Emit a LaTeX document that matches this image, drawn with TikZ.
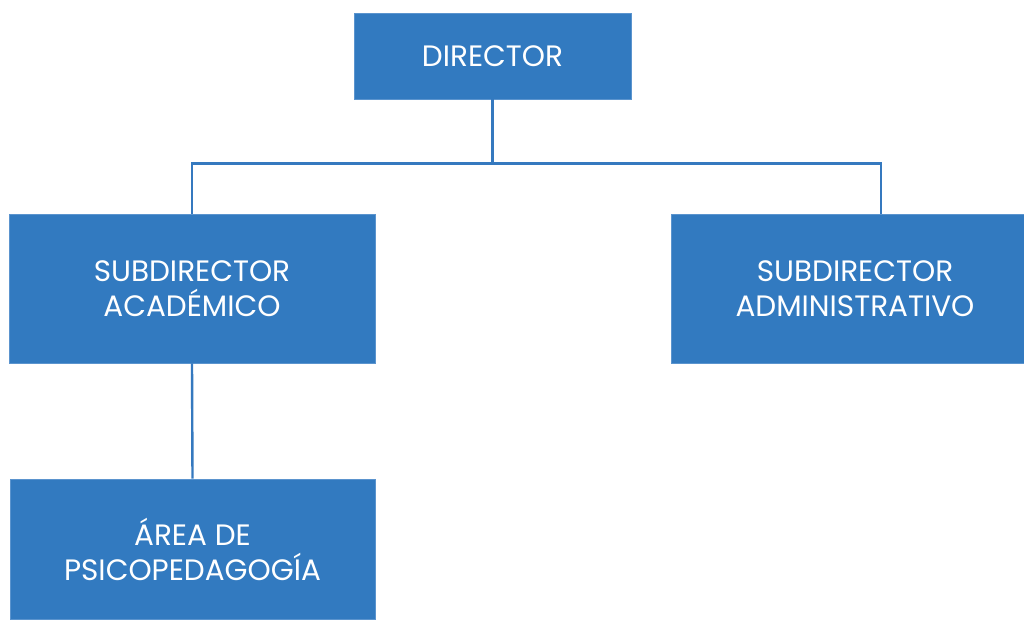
\documentclass[tikz,border=0pt]{standalone}
\usepackage{fontspec}
\setmainfont{Poppins}
\usepackage{tikz}
\usetikzlibrary{positioning,calc}
\definecolor{boxBlue}{HTML}{327AC0}
\definecolor{edgeBlue}{HTML}{5B94CE}
\definecolor{lineBlue}{HTML}{3579BF}

\begin{document}
\begin{tikzpicture}[x=1pt,y=-1pt,
unit/.style={
fill=boxBlue,
draw=edgeBlue,
line width=0.6pt,
text=white,
align=center,
inner sep=0pt,
font=\fontsize{29.5}{35}\selectfont,
},
link/.style={
draw=lineBlue,
line width=2.4pt,
}
]
\useasboundingbox (0,0) rectangle (1024,619);
\node [unit,minimum width=277pt,minimum height=86pt] at (492.5,56) (director) {DIRECTOR};
\node [unit,minimum width=366pt,minimum height=149pt] at (192,288.5) (subAcademico) {SUBDIRECTOR\\ACADÉMICO};
\node [unit,minimum width=353pt,minimum height=149pt] at (847.5,288.5) (subAdmin) {\hspace*{15pt}SUBDIRECTOR\\\hspace*{15pt}ADMINISTRATIVO};
\node [unit,minimum width=365pt,minimum height=140pt] at (192.5,549) (psicopedagogia) {ÁREA DE\\PSICOPEDAGOGÍA};
\coordinate (adminTop) at (881,214);

% branches
\draw[link] (director.south) -- ++(0,64) coordinate (fork);
\draw[link] (subAcademico.north) |- (fork) -| (adminTop);
\draw[link] (subAcademico.south) -- (psicopedagogia.north);
\end{tikzpicture}
\end{document}
